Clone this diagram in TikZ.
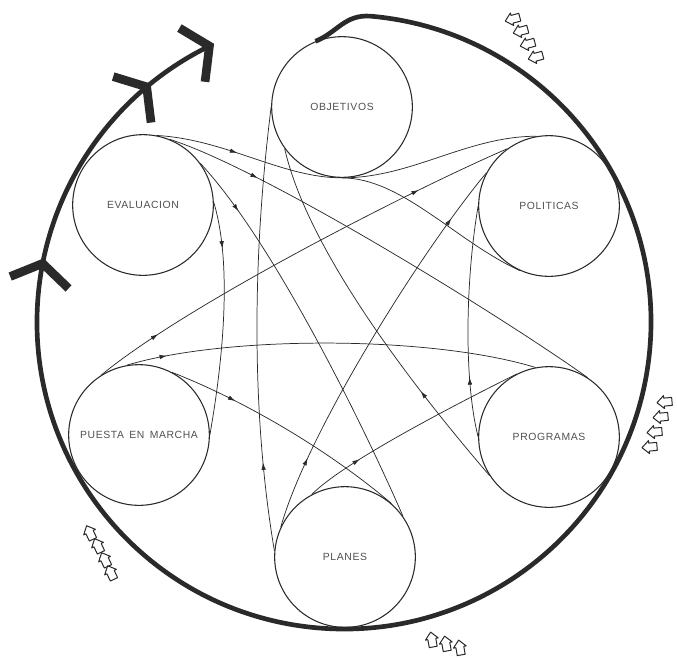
\documentclass[tikz,border=0pt]{standalone}
\usepackage{fontspec}
\setmainfont{Liberation Sans}
\newfontfamily\labfont[LetterSpace=6]{Liberation Sans}
\usetikzlibrary{arrows.meta,decorations.markings}
\definecolor{ink}{HTML}{2A2A2A}
\definecolor{txt}{HTML}{505050}
\begin{document}
\begin{tikzpicture}[x=0.75pt,y=-0.75pt,
  stage/.style={circle,draw=ink,line width=0.8pt,minimum size=105.5pt,inner sep=0pt,
    font=\labfont\fontsize{7.8}{9}\selectfont,text=txt},
  link/.style={color=ink,line width=0.55pt},
  tipa/.tip={Latex[length=5.5pt,width=3.4pt]},
  ar/.style={postaction={decorate,decoration={markings,mark=at position #1 with {\arrow{tipa}}}}},
  artwo/.style 2 args={postaction={decorate,decoration={markings,
      mark=at position #1 with {\arrow{tipa}},mark=at position #2 with {\arrow{tipa}}}}},
  rim/.style={draw=ink,line width=3.5pt},
  chev/.style={draw=ink,line width=6.5pt,line cap=butt,line join=miter},
  hollow/.style={draw=ink,line width=0.75pt,line join=round}]
\useasboundingbox (0,0) rectangle (677,658);

% stages
\node[stage] (O)  at (342,107) {OBJETIVOS};
\node[stage] (Po) at (549,206) {POLITICAS};
\node[stage] (Pr) at (549,437) {PROGRAMAS};
\node[stage] (Pl) at (345,557) {PLANES};
\node[stage] (Pu) at (139,435) {PUESTA\hspace{4pt}EN\hspace{4pt}MARCHA};
\node[stage] (E)  at (143,205) {EVALUACION};
\node[circle,minimum size=460.5pt,inner sep=0pt,outer sep=0pt] (B) at (344,322) {};

% outer thick cycle
\draw[rim] (O.112) .. controls +(22,-9) and +(-26,-2) .. (B.85)
  arc[start angle=-85,end angle=244,radius=307];
\draw[chev] (B.116) ++({35*cos(149)},{-35*sin(149)}) -- (B.116) -- ++({36*cos(263)},{-36*sin(263)});
\draw[chev] (B.130) ++({35*cos(163)},{-35*sin(163)}) -- (B.130) -- ++({36*cos(277)},{-36*sin(277)});
\draw[chev] (B.169) ++({35*cos(202)},{-35*sin(202)}) -- (B.169) -- ++({36*cos(316)},{-36*sin(316)});

% links
\draw[link,ar=0.21] (E.79) .. controls +(70,4) and +(-60,0) .. (O.270)
   .. controls +(60,0) and +(-64,-29) .. (Po.246);
\draw[link] (Po.100) .. controls +(-70,0) and +(70,0) .. (O.270);
\draw[link,ar=0.2] (E.68) .. controls +(95,30) and +(-81,-58) .. (Pr.57);
\draw[link,ar=0.15] (E.36) .. controls +(70,75) and +(-45,-103) .. (Pl.35);
\draw[link,ar=0.2] (E.2) .. controls +(18,60) and +(14,-80) .. (Pu.0);
\draw[link,ar=0.2] (Pl.175) .. controls +(-22,-130) and +(-20,160) .. (O.180);
\draw[link,artwo={0.18}{0.86}] (Pl.155) .. controls +(27,-96) and +(-64,77) .. (Po.152);
\draw[link,artwo={0.15}{0.79}] (Pu.122) .. controls +(85,-70) and +(-101,44) .. (Po.126);
\draw[link,ar=0.1] (Pu.100) .. controls +(100,-30) and +(-105,-32) .. (Pr.101);
\draw[link,ar=0.27] (Pu.62) .. controls +(74,29) and +(-61,-52) .. (Pl.49);
\draw[link,ar=0.25] (Pl.118) .. controls +(30,-30) and +(-80,40) .. (Pr.117);
\draw[link,ar=0.28] (Pr.213) .. controls +(-60,-70) and +(25,110) .. (O.216);
\draw[link,ar=0.26] (Pr.180) .. controls +(-15,-60) and +(-12,70) .. (Po.180);

% small hollow arrows
\foreach \px/\py/\ang in {513/19/195,521/31/195,528/44/195,536/57/195,
   665/402/185,661/417/185,655/432/185,650/447/185,
   90/533/115,98/546/115,105/560/115,111/573/115,
   432/640/100,446/644/100,460/648/100}
  \draw[hollow,shift={(\px,\py)},rotate=\ang]
    (-7,-4) -- (1,-4) -- (1,-6.5) -- (8,0) -- (1,6.5) -- (1,4) -- (-7,4) -- cycle;
\end{tikzpicture}
\end{document}
